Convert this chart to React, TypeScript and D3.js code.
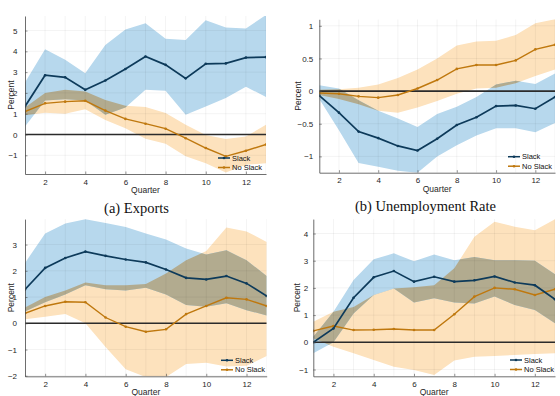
import React, { useRef, useEffect } from 'react';
import * as d3 from 'd3';

const quarters = [1, 2, 3, 4, 5, 6, 7, 8, 9, 10, 11, 12, 13];
const xTicks = [2, 4, 6, 8, 10, 12];
const seriesNames = ['Slack', 'No Slack'];

// (a) Exports
const exportsSlack = [1.35, 2.85, 2.75, 2.15, 2.6, 3.15, 3.75, 3.35, 2.7, 3.4, 3.42, 3.7, 3.72];
const exportsSlackHi = [2.5, 4.1, 3.6, 2.95, 4.3, 5.05, 5.35, 4.6, 4.55, 5.5, 5.15, 5.1, 5.75];
const exportsSlackLo = [0.38, 1.63, 1.7, 1.63, 0.95, 1.3, 2.15, 2.1, 0.95, 1.35, 1.75, 2.3, 1.8];
const exportsNoSlack = [1.1, 1.5, 1.58, 1.62, 1.15, 0.75, 0.52, 0.28, -0.18, -0.65, -1.05, -0.78, -0.48];
const exportsNoSlackHi = [1.3, 2.0, 2.15, 2.07, 1.66, 1.38, 1.32, 1.03, 0.47, -0.02, -0.22, -0.1, 0.47];
const exportsNoSlackLo = [0.92, 1.05, 1.0, 1.22, 0.7, 0.3, -0.2, -0.45, -1.05, -1.38, -1.83, -1.46, -1.38];
const exportsTicks = [-1, 0, 1, 2, 3, 4, 5];

// (b) Unemployment Rate
const unempSlack = [-0.07, -0.33, -0.62, -0.72, -0.84, -0.91, -0.73, -0.52, -0.4, -0.23, -0.22, -0.27, -0.09];
const unempSlackHi = [0.09, 0.04, -0.14, -0.3, -0.42, -0.55, -0.35, -0.24, -0.09, 0.1, 0.16, 0.11, 0.27];
const unempSlackLo = [-0.12, -0.6, -1.1, -1.16, -1.22, -1.25, -1.0, -0.83, -0.68, -0.57, -0.57, -0.63, -0.49];
const unempNoSlack = [-0.03, -0.04, -0.08, -0.1, -0.06, 0.04, 0.17, 0.34, 0.4, 0.4, 0.47, 0.64, 0.71];
const unempNoSlackHi = [0.02, 0.03, 0.05, 0.1, 0.2, 0.33, 0.5, 0.7, 0.76, 0.77, 0.86, 1.04, 1.1];
const unempNoSlackLo = [-0.06, -0.12, -0.2, -0.3, -0.33, -0.25, -0.15, -0.04, 0.04, 0.05, 0.12, 0.23, 0.33];
const unempTicks = [-1, -0.5, 0, 0.5, 1];

// bottom left
const c3Slack = [1.29, 2.11, 2.49, 2.73, 2.57, 2.43, 2.32, 2.05, 1.73, 1.67, 1.8, 1.52, 1.04];
const c3SlackHi = [2.3, 3.42, 3.8, 3.96, 3.82, 3.67, 3.42, 3.19, 2.85, 2.62, 2.78, 2.4, 1.8];
const c3SlackLo = [0.45, 0.8, 1.1, 1.45, 1.3, 1.25, 1.35, 1.1, 0.7, 0.63, 0.76, 0.5, 0.3];
const c3NoSlack = [0.38, 0.66, 0.82, 0.8, 0.22, -0.13, -0.32, -0.23, 0.35, 0.66, 0.97, 0.91, 0.66];
const c3NoSlackHi = [0.6, 1.0, 1.25, 1.55, 1.45, 1.45, 1.5, 1.9, 2.4, 2.75, 3.65, 3.5, 3.1];
const c3NoSlackLo = [0.15, 0.25, 0.35, 0.0, -0.9, -1.75, -2.05, -2.05, -1.55, -1.5, -1.65, -1.62, -1.25];
const c3Ticks = [-2, -1, 0, 1, 2, 3];

// bottom right
const c4Slack = [0.0, 0.51, 1.64, 2.39, 2.62, 2.23, 2.41, 2.23, 2.28, 2.42, 2.2, 2.1, 1.58];
const c4SlackHi = [0.2, 1.12, 2.29, 3.05, 3.27, 2.98, 3.23, 3.02, 3.14, 3.02, 3.02, 3.0, 2.5];
const c4SlackLo = [-0.4, 0.0, 1.06, 1.74, 1.98, 1.46, 1.62, 1.46, 1.43, 1.68, 1.37, 1.19, 0.7];
const c4NoSlack = [0.42, 0.6, 0.45, 0.46, 0.49, 0.45, 0.45, 1.03, 1.68, 2.0, 1.95, 1.74, 1.95];
const c4NoSlackHi = [0.76, 1.12, 1.3, 1.74, 1.98, 2.02, 2.1, 2.72, 3.88, 4.43, 4.25, 4.12, 4.52];
const c4NoSlackLo = [0.15, -0.16, -0.4, -0.65, -0.9, -1.02, -1.2, -0.67, -0.53, -0.5, -0.47, -0.43, -0.4];
const c4Ticks = [-1, 0, 1, 2, 3, 4];

const panels = [
  {
    slack: exportsSlack, slackHi: exportsSlackHi, slackLo: exportsSlackLo,
    noSlack: exportsNoSlack, noSlackHi: exportsNoSlackHi, noSlackLo: exportsNoSlackLo,
    yDomain: [-1.9, 5.7], yTicks: exportsTicks,
    left: 25, right: 266, top: 16, bottom: 174,
    labelX: 11, tickPad: 7.5, legendX: 218, legendY: 158, title: '(a) Exports', titleX: 136.5, titleY: 212.5,
  },
  {
    slack: unempSlack, slackHi: unempSlackHi, slackLo: unempSlackLo,
    noSlack: unempNoSlack, noSlackHi: unempNoSlackHi, noSlackLo: unempNoSlackLo,
    yDomain: [-1.25, 1.1], yTicks: unempTicks,
    left: 319.3, right: 555, top: 19.3, bottom: 172.7,
    labelX: 298, tickPad: 6, legendX: 508, legendY: 156.7, title: '(b) Unemployment Rate', titleX: 425.5, titleY: 210.5,
  },
  {
    slack: c3Slack, slackHi: c3SlackHi, slackLo: c3SlackLo,
    noSlack: c3NoSlack, noSlackHi: c3NoSlackHi, noSlackLo: c3NoSlackLo,
    yDomain: [-2.02, 3.97], yTicks: c3Ticks,
    left: 25, right: 266.7, top: 219.1, bottom: 376.3,
    labelX: 11.5, tickPad: 8, legendX: 221, legendY: 360.3, title: '', titleX: 0, titleY: 0,
  },
  {
    slack: c4Slack, slackHi: c4SlackHi, slackLo: c4SlackLo,
    noSlack: c4NoSlack, noSlackHi: c4NoSlackHi, noSlackLo: c4NoSlackLo,
    yDomain: [-1.25, 4.53], yTicks: c4Ticks,
    left: 313.3, right: 555, top: 219.1, bottom: 376.3,
    labelX: 296.7, tickPad: 5, legendX: 510, legendY: 360,
    title: '', titleX: 0, titleY: 0,
  },
];

const SLACK = '#0d3a5a';
const NOSLACK = '#bf780e';
const SLACK_FILL = '#b7d8ed';
const NOSLACK_FILL = '#fde2bd';
const OVERLAP_FILL = '#b2ab8f';
const SANS = '"Liberation Sans", Arial, sans-serif';

const Chart = () => {
  const ref = useRef<SVGSVGElement>(null);

  useEffect(() => {
    const svg = d3.select(ref.current);
    svg.selectAll('*').remove();
    const defs = svg.append('defs');

    panels.forEach((p, k) => {
      const x = d3.scaleLinear().domain([1, 13]).range([p.left, p.right]);
      const y = d3.scaleLinear().domain(p.yDomain).range([p.bottom, p.top]);
      const g = svg.append('g');

      defs.append('clipPath').attr('id', `plot${k}`)
        .append('rect')
        .attr('x', p.left).attr('y', p.top)
        .attr('width', p.right - p.left).attr('height', p.bottom - p.top);

      const band = (lo: number[], hi: number[]) =>
        d3.area<number>()
          .x((_, i) => x(quarters[i]))
          .y0((_, i) => y(lo[i]))
          .y1((_, i) => y(hi[i]))(quarters);

      const plot = g.append('g').attr('clip-path', `url(#plot${k})`);
      const orangePath = band(p.noSlackLo, p.noSlackHi);
      const bluePath = band(p.slackLo, p.slackHi);

      plot.append('path').attr('d', orangePath).attr('fill', NOSLACK_FILL);
      plot.append('path').attr('d', bluePath).attr('fill', SLACK_FILL);

      // overlap of the two bands
      defs.append('clipPath').attr('id', `orange${k}`)
        .append('path').attr('d', orangePath);
      plot.append('g').attr('clip-path', `url(#orange${k})`)
        .append('path').attr('d', bluePath).attr('fill', OVERLAP_FILL);

      // grid
      const grid = plot.append('g').attr('stroke', '#000').attr('stroke-opacity', 0.07).attr('stroke-width', 0.7);
      quarters.forEach(q => {
        grid.append('line').attr('x1', x(q)).attr('x2', x(q)).attr('y1', p.top).attr('y2', p.bottom);
      });
      p.yTicks.forEach(t => {
        grid.append('line').attr('x1', p.left).attr('x2', p.right).attr('y1', y(t)).attr('y2', y(t));
      });

      // zero line
      plot.append('line')
        .attr('x1', p.left).attr('x2', p.right)
        .attr('y1', y(0)).attr('y2', y(0))
        .attr('stroke', '#2b2b2b').attr('stroke-width', 1.6);

      const line = (vals: number[]) =>
        d3.line<number>().x((_, i) => x(quarters[i])).y((_, i) => y(vals[i]))(quarters);

      [[p.noSlack, NOSLACK, 1.4], [p.slack, SLACK, 1.7]].forEach(([vals, color, w]) => {
        const v = vals as number[];
        plot.append('path').attr('d', line(v))
          .attr('fill', 'none').attr('stroke', color as string).attr('stroke-width', w as number);
        plot.append('g').selectAll('circle').data(v).join('circle')
          .attr('cx', (_, i) => x(quarters[i]))
          .attr('cy', d => y(d))
          .attr('r', 1.3)
          .attr('fill', color as string);
      });

      // axes
      const xAxis = g.append('g')
        .attr('transform', `translate(0,${p.bottom})`)
        .call(d3.axisBottom(x).tickValues(xTicks).tickSizeInner(-2.5).tickSizeOuter(0).tickPadding(5));
      const yAxis = g.append('g')
        .attr('transform', `translate(${p.left},0)`)
        .call(d3.axisLeft(y).tickValues(p.yTicks).tickSizeInner(-2.5).tickSizeOuter(0)
          .tickPadding(p.tickPad).tickFormat(d3.format('')));
      [xAxis, yAxis].forEach(a => {
        a.select('.domain').attr('stroke', '#4a4a4a').attr('stroke-width', 0.8);
        a.selectAll('.tick line').attr('stroke', '#4a4a4a').attr('stroke-width', 0.6);
        a.selectAll('.tick text').attr('fill', '#262626')
          .style('font-family', SANS).style('font-size', '8px');
      });

      g.append('text')
        .attr('x', (p.left + p.right) / 2).attr('y', p.bottom + 19)
        .attr('text-anchor', 'middle')
        .style('font-family', SANS).style('font-size', '8.5px').attr('fill', '#262626')
        .text('Quarter');
      g.append('text')
        .attr('transform', `translate(${p.labelX},${(p.top + p.bottom) / 2}) rotate(-90)`)
        .attr('text-anchor', 'middle').attr('dy', '0.35em')
        .style('font-family', SANS).style('font-size', '8.5px').attr('fill', '#262626')
        .text('Percent');

      // legend
      const leg = g.append('g');
      [SLACK, NOSLACK].forEach((color, i) => {
        const ly = p.legendY + i * 9.5;
        leg.append('line')
          .attr('x1', p.legendX).attr('x2', p.legendX + 12)
          .attr('y1', ly).attr('y2', ly)
          .attr('stroke', color).attr('stroke-width', 1.5);
        leg.append('circle').attr('cx', p.legendX + 6).attr('cy', ly).attr('r', 1.3).attr('fill', color);
        leg.append('text')
          .attr('x', p.legendX + 14).attr('y', ly).attr('dy', '0.35em')
          .style('font-family', SANS).style('font-size', '7.5px').attr('fill', '#111')
          .text(seriesNames[i]);
      });

      if (p.title) {
        g.append('text')
          .attr('x', p.titleX).attr('y', p.titleY)
          .attr('text-anchor', 'middle')
          .style('font-family', '"Liberation Serif", "Times New Roman", serif')
          .style('font-size', '14.5px').attr('fill', '#111')
          .text(p.title);
      }
    });
  }, []);

  return (
    <svg ref={ref} width={560} height={396}
      style={{ position: 'absolute', left: 0, top: 0, background: '#fff' }} />
  );
};

export default function App() {
  return <Chart />;
}
